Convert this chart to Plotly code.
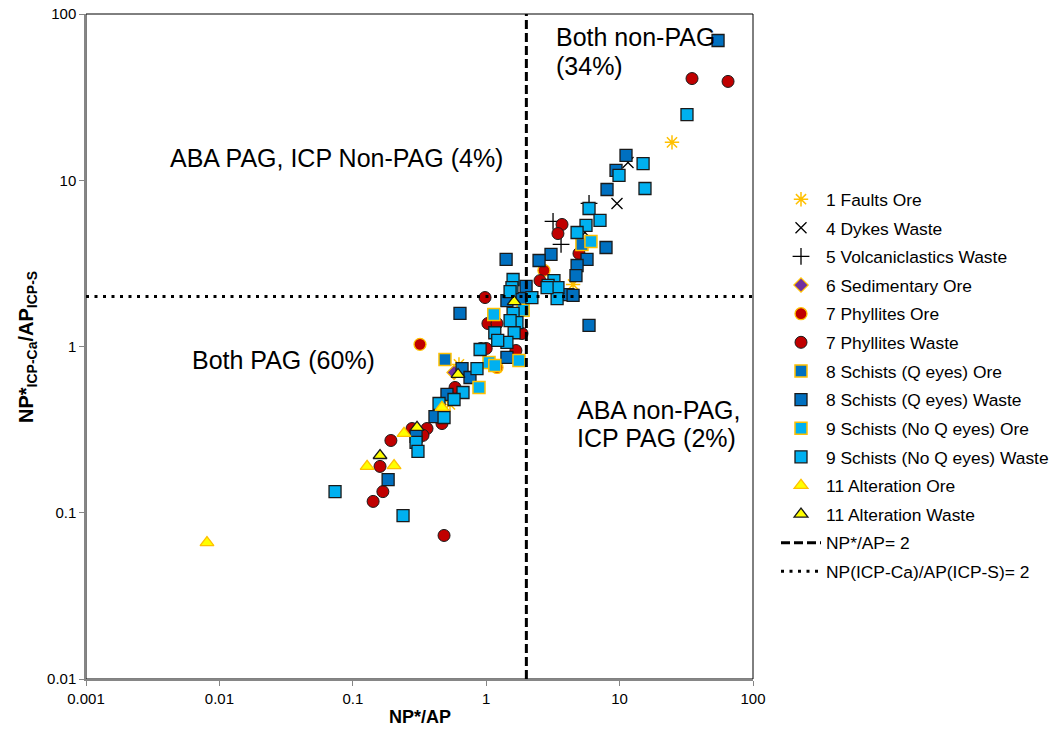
import plotly.graph_objects as go

# ---------------- data ----------------
faults_ore_x = [24.7, 4.48, 0.625, 0.535]
faults_ore_y = [16.9, 2.36, 0.78, 0.448]

dykes_waste_x = [11.56, 9.56, 5.5]
dykes_waste_y = [12.8, 7.25, 4.85]

volc_waste_x = [3.17, 3.64, 5.9]
volc_waste_y = [5.65, 4.11, 7.25]

sed_ore_x = [0.574]
sed_ore_y = [0.698]

phyl_ore_x = [0.319, 2.71, 1.205]
phyl_ore_y = [1.03, 2.87, 0.748]

phyl_waste_x = [34.9, 65.0, 3.70, 3.45, 4.96, 2.53, 0.98, 1.03, 1.205, 0.914, 1.0, 1.67,
                1.855, 0.584, 0.466, 0.278, 0.36, 0.336, 0.193, 0.16, 0.168, 0.142, 0.483]
phyl_waste_y = [40.9, 39.3, 5.42, 4.78, 3.63, 2.49, 1.97, 1.375, 1.375, 0.973, 0.973, 0.946,
                1.197, 0.567, 0.344, 0.321, 0.321, 0.292, 0.272, 0.19, 0.134, 0.117, 0.073]

sq_ore_x = [0.491, 5.22]
sq_ore_y = [0.835, 4.11]

sq_waste_x = [54.7, 11.17, 9.4, 8.05, 7.91, 5.7, 4.8, 4.71, 3.06, 2.49, 4.1, 4.48, 5.9,
              1.41, 0.636, 1.99, 1.79, 1.43, 1.43, 0.659, 0.756, 0.508, 0.413, 0.298, 0.184]
sq_waste_y = [69.3, 14.1, 11.45, 8.8, 3.94, 3.34, 3.07, 2.67, 3.58, 3.29, 2.05, 2.03, 1.34,
              3.34, 1.58, 2.30, 1.94, 1.89, 0.859, 0.737, 0.651, 0.515, 0.379, 0.288, 0.158]

snq_ore_x = [6.1, 1.14, 1.89, 1.05, 1.16, 0.883, 1.76]
snq_ore_y = [4.28, 1.56, 1.65, 0.80, 0.769, 0.567, 0.824]

snq_waste_x = [32.0, 15.0, 9.9, 15.5, 5.9, 7.13, 5.6, 4.8, 3.22, 2.91, 3.45, 3.40, 2.86,
               1.59, 1.56, 1.51, 2.2, 1.59, 1.70, 1.51, 1.16, 1.62, 1.43, 1.22, 0.90,
               0.853, 0.67, 0.574, 0.443, 0.483, 0.298, 0.308, 0.0736, 0.238]
snq_waste_y = [24.8, 12.6, 10.7, 8.92, 6.76, 5.73, 5.35, 4.85, 2.49, 2.33, 2.26, 1.94, 2.26,
               2.53, 2.26, 2.14, 1.97, 1.58, 1.39, 1.43, 1.21, 1.21, 1.06, 1.09, 0.959,
               0.737, 0.529, 0.48, 0.454, 0.374, 0.265, 0.234, 0.134, 0.096]

alt_ore_x = [0.00807, 0.128, 0.204, 0.242, 0.466]
alt_ore_y = [0.0662, 0.19, 0.192, 0.30, 0.43]

alt_waste_x = [0.16, 0.303, 0.615, 1.62]
alt_waste_y = [0.221, 0.326, 0.679, 1.86]

np_ap_line_x = [2, 2]
np_ap_line_y = [0.01, 100]
icp_line_x = [0.001, 100]
icp_line_y = [2, 2]

tick_vals_x = [0.001, 0.01, 0.1, 1, 10, 100]
tick_text_x = ["0.001", "0.01", "0.1", "1", "10", "100"]
tick_vals_y = [0.01, 0.1, 1, 10, 100]
tick_text_y = ["0.01", "0.1", "1", "10", "100"]

# ---------------- styles ----------------
DARK_BLUE = "#0070C0"
LIGHT_BLUE = "#00B0F0"
RED = "#C00000"
YELLOW = "#FFFF00"
GOLD = "#FFC000"
EDGE = "#1a1a1a"
FONT = "Arial, Liberation Sans, sans-serif"

fig = go.Figure()

def add(name, x, y, symbol, color, line_color, size=12, lw=1.2):
    fig.add_trace(go.Scatter(
        x=x, y=y, mode="markers", name=name, legendgroup=name,
        marker=dict(symbol=symbol, size=size, color=color,
                    line=dict(color=line_color, width=lw)),
    ))

add("1 Faults Ore", faults_ore_x, faults_ore_y, "asterisk-open", GOLD, GOLD, 12, 1.5)
add("4 Dykes Waste", dykes_waste_x, dykes_waste_y, "x-thin-open", "black", "black", 11, 1.3)
add("5 Volcaniclastics Waste", volc_waste_x, volc_waste_y, "cross-thin-open", "black", "black", 12, 1.3)
add("6 Sedimentary Ore", sed_ore_x, sed_ore_y, "diamond", "#7030A0", GOLD, 11, 1.2)
add("7 Phyllites Ore", phyl_ore_x, phyl_ore_y, "circle", RED, GOLD, 12, 1.3)
add("7 Phyllites Waste", phyl_waste_x, phyl_waste_y, "circle", RED, EDGE, 12, 1.0)
add("8 Schists (Q eyes) Ore", sq_ore_x, sq_ore_y, "square", DARK_BLUE, GOLD, 12, 1.5)
add("8 Schists (Q eyes) Waste", sq_waste_x, sq_waste_y, "square", DARK_BLUE, EDGE, 12, 1.3)
add("9 Schists (No Q eyes) Ore", snq_ore_x, snq_ore_y, "square", LIGHT_BLUE, GOLD, 12, 1.5)
add("9 Schists (No Q eyes) Waste", snq_waste_x, snq_waste_y, "square", LIGHT_BLUE, EDGE, 12, 1.3)
add("11 Alteration Ore", alt_ore_x, alt_ore_y, "triangle-up", YELLOW, GOLD, 12, 1.3)
add("11 Alteration Waste", alt_waste_x, alt_waste_y, "triangle-up", YELLOW, EDGE, 12, 1.3)

fig.add_trace(go.Scatter(
    x=np_ap_line_x, y=np_ap_line_y, mode="lines", name="NP*/AP= 2", legendgroup="l1",
    line=dict(color="black", width=3, dash="9px,4px"),
))
fig.add_trace(go.Scatter(
    x=icp_line_x, y=icp_line_y, mode="lines", name="NP(ICP-Ca)/AP(ICP-S)= 2", legendgroup="l2",
    line=dict(color="black", width=3, dash="3px,5.5px"),
))

axis_common = dict(
    type="log", showgrid=False, zeroline=False, showline=True,
    linecolor="#868686", linewidth=1.5, ticks="outside", ticklen=5,
    tickcolor="#868686", tickfont=dict(family=FONT, size=15, color="black"),
    mirror=False, automargin=False,
)
fig.update_xaxes(range=[-3, 2], tickvals=tick_vals_x, ticktext=tick_text_x, **axis_common)
fig.update_yaxes(range=[-2, 2], tickvals=tick_vals_y, ticktext=tick_text_y, **axis_common)

# black frame at top/right of plot area
fig.add_shape(type="rect", xref="paper", yref="paper", x0=0, y0=0, x1=1, y1=1,
              line=dict(color="black", width=1), layer="below")

ann_font = dict(family=FONT, size=25, color="black")
def txt(x, y, s):
    fig.add_annotation(xref="paper", yref="paper", x=x, y=y, text=s, showarrow=False,
                       xanchor="left", yanchor="middle", font=ann_font)

# pixel -> paper helpers for plot area l=86, r=753, t=14, b=679
def px(xp):
    return (xp - 86) / 667.0
def py(yp):
    return 1 - (yp - 14) / 665.0

txt(px(554), py(37), "Both non-PAG")
txt(px(554), py(66), "(34%)")
txt(px(168), py(158), "ABA PAG, ICP Non-PAG (4%)")
txt(px(190), py(360), "Both PAG (60%)")
txt(px(575), py(410), "ABA non-PAG,")
txt(px(575), py(438), "ICP PAG (2%)")

fig.add_annotation(xref="paper", yref="paper", x=0.5, y=py(717), text="<b>NP*/AP</b>",
                   showarrow=False, xanchor="center", yanchor="middle",
                   font=dict(family=FONT, size=18, color="black"))
fig.add_annotation(xref="paper", yref="paper", x=px(27), y=py(347),
                   text="<b>NP*<sub>ICP-Ca</sub>/AP<sub>ICP-S</sub></b>",
                   showarrow=False, xanchor="center", yanchor="middle", textangle=-90,
                   font=dict(family=FONT, size=20, color="black"))

fig.update_layout(
    width=1052, height=731, autosize=False,
    margin=dict(l=86, r=299, t=14, b=52),
    paper_bgcolor="white", plot_bgcolor="white",
    font=dict(family=FONT, color="black"),
    showlegend=True,
    legend=dict(xref="container", yref="container",
                x=776 / 1052, y=1 - 181.4 / 731, xanchor="left", yanchor="top",
                font=dict(family=FONT, size=17.4, color="black"),
                itemwidth=40, tracegroupgap=3.0, bgcolor="rgba(0,0,0,0)",
                itemsizing="trace", maxheight=700),
)

fig.write_html("out.html")
